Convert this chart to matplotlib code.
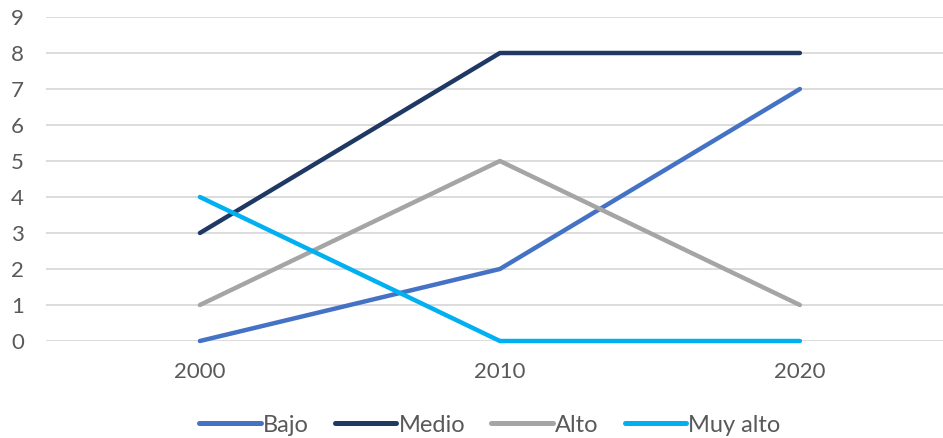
import matplotlib
matplotlib.use("Agg")
from matplotlib import pyplot as plt

YEARS = ['2000', '2010', '2020']
BAJO = [0, 2, 7]
MEDIO = [3, 8, 8]
ALTO = [1, 5, 1]
MUY_ALTO = [4, 0, 0]

SERIES = [('Bajo', BAJO, '#4472C4'),
          ('Medio', MEDIO, '#1F3864'),
          ('Alto', ALTO, '#A5A5A5'),
          ('Muy alto', MUY_ALTO, '#00B0F0')]

plt.rcParams['font.family'] = ['Lato', 'DejaVu Sans']

fig = plt.figure(figsize=(9.43, 4.38), dpi=100)
ax = fig.add_axes([46 / 943, 97 / 438, 897 / 943, 324 / 438])

x = list(range(len(YEARS)))
for name, vals, color in SERIES:
    ax.plot(x, vals, color=color, lw=3.2, label=name, clip_on=False,
            solid_capstyle='round', solid_joinstyle='round', zorder=3)

ax.set_xlim(-0.513, 2.477)
ax.set_ylim(0, 9)
ax.set_yticks(range(0, 10))
ax.set_xticks(x)
ax.set_xticklabels(YEARS)
ax.grid(axis='y', color='#D9D9D9', lw=1.3)
ax.set_axisbelow(True)
for s in ax.spines.values():
    s.set_visible(False)
ax.tick_params(axis='both', length=0, labelsize=16, labelcolor='#595959')
ax.tick_params(axis='y', pad=16)
ax.tick_params(axis='x', pad=15)

leg = fig.legend(loc='center', bbox_to_anchor=(490 / 943, 1 - 425 / 438), ncol=4,
                 frameon=False, fontsize=17, handlelength=2.6, handletextpad=0.1,
                 columnspacing=1.1, labelcolor='#595959')
for h in leg.get_lines():
    h.set_linewidth(3.6)

fig.savefig('out.png', dpi=100)
